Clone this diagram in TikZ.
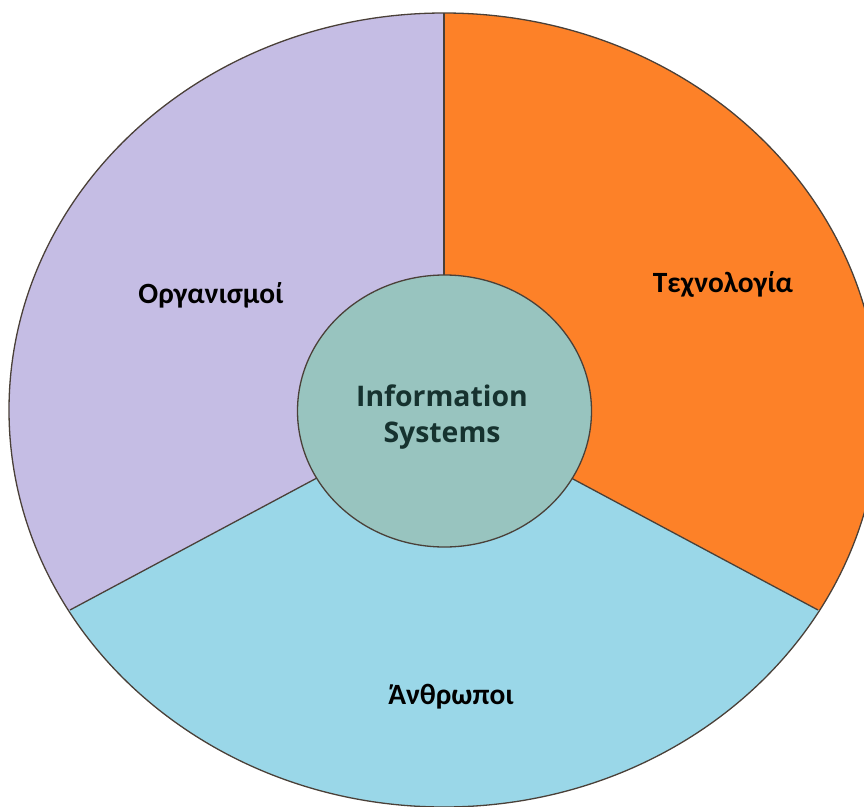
\documentclass[tikz,border=0pt]{standalone}
\usepackage{fontspec}
\setmainfont{Carlito}
\newfontfamily\corefont{Open Sans}
\usetikzlibrary{shapes.geometric}
\definecolor{lavender}{HTML}{C5BDE4}
\definecolor{tangerine}{HTML}{FD8128}
\definecolor{sky}{HTML}{9AD7E8}
\definecolor{sage}{HTML}{98C4BF}
\definecolor{rim}{HTML}{4A4038}
\definecolor{coretext}{HTML}{16322F}
\begin{document}
\begin{tikzpicture}[x=1bp,y=-1bp,
  rimline/.style={draw=rim,line width=1.3bp},
  divider/.style={draw=rim,line width=1.3bp},
  sectorlabel/.style={font=\bfseries\fontsize{29.5}{34}\selectfont,text=black},
  hub/.style={ellipse,draw=rim,line width=1.3bp,fill=sage,
    minimum width=294bp,minimum height=272bp,inner sep=0pt},
  hubtext/.style={text=coretext,align=center,
    font=\corefont\bfseries\fontsize{28.5}{36}\selectfont}]
\useasboundingbox (0,0) rectangle (864,807);
\clip (0,0) rectangle (864,807);
\coordinate (O) at (444,410);
\coordinate (T) at (444,13);
\coordinate (L) at (70,610);
\coordinate (R) at (818,610);
% base disc (Organisations sector)
\fill[lavender] (O) ellipse [x radius=435, y radius=397];
% technology sector, upper right
\begin{scope}
  \clip (O) -- (444,-50) -- (1005,-50) -- (1005,710) -- cycle;
  \fill[tangerine] (O) ellipse [x radius=435, y radius=397];
\end{scope}
% people sector, bottom
\begin{scope}
  \clip (O) -- (-117,710) -- (-117,900) -- (1005,900) -- (1005,710) -- cycle;
  \fill[sky] (O) ellipse [x radius=435, y radius=397];
\end{scope}
% sector borders
\draw[divider] (O) -- (T);
\draw[divider] (O) -- (L);
\draw[divider] (O) -- (R);
\draw[rimline] (O) ellipse [x radius=435, y radius=397];
% hub
\node[hub] (core) at (444.5,411) {};
\node[hubtext] (coretitle) at (442,417) {Information\\Systems};
% sector names
\node[sectorlabel] (org) at (211,295) {Οργανισμοί};
\node[sectorlabel] (tech) at (723,284) {Τεχνολογία};
\node[sectorlabel] (people) at (451,697) {Άνθρωποι};
\end{tikzpicture}
\end{document}
